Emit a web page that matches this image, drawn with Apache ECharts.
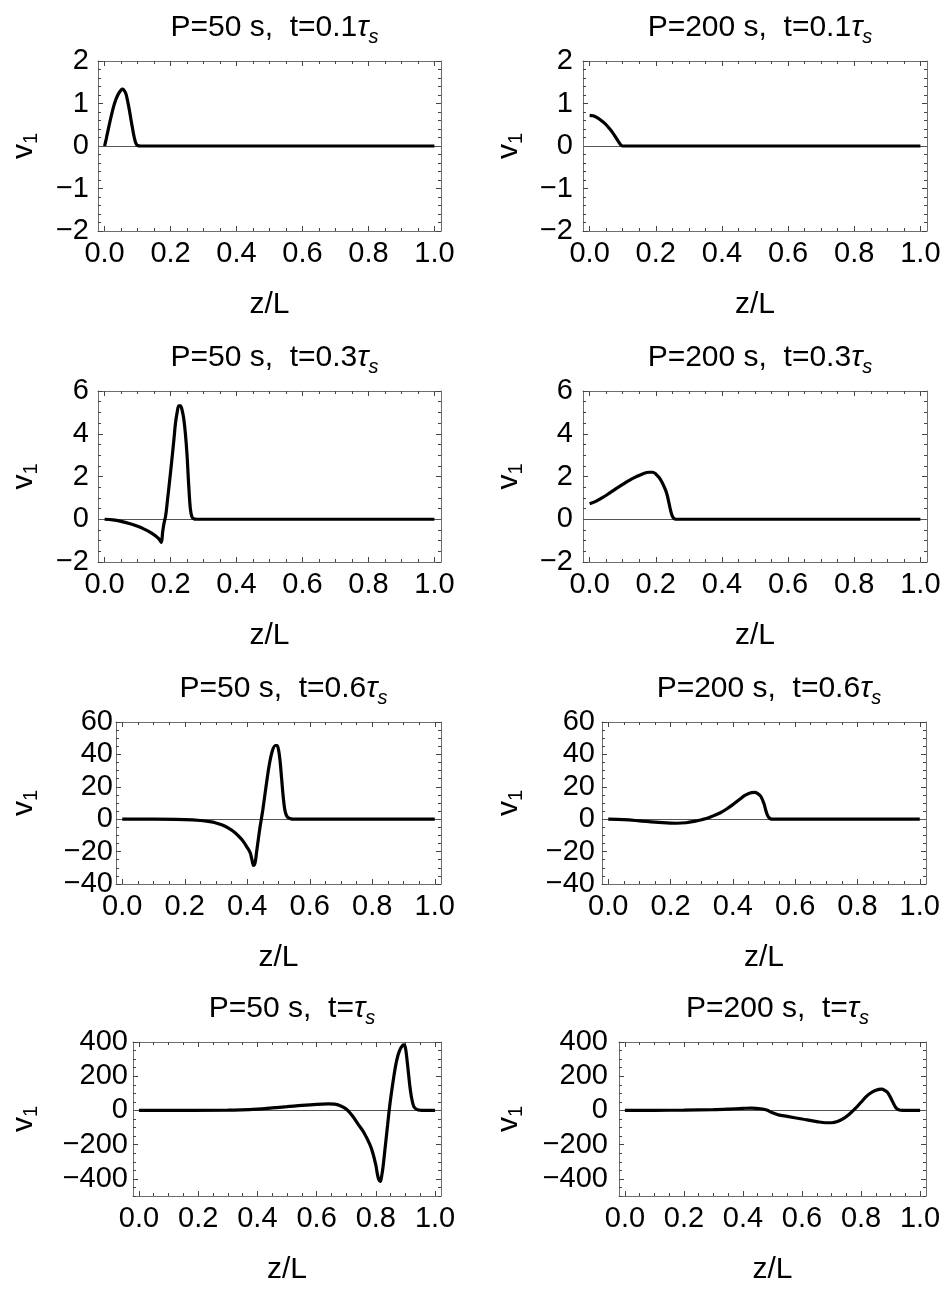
<!DOCTYPE html>
<html>
<head>
<meta charset="utf-8">
<script src="https://cdn.jsdelivr.net/npm/echarts@6/dist/echarts.min.js"></script>
<style>
  html, body { margin: 0; padding: 0; background: #fff; }
  #chart { width: 945px; height: 1289px; }
</style>
</head>
<body>
<div id="chart"></div>
<script>
// ---------------- data ----------------
const periods = ['50', '200'];
const times = ['0.1', '0.3', '0.6', ''];

const xTickLabels = [0, 0.2, 0.4, 0.6, 0.8, 1.0];
const xMinorTicks = [0, 0.05, 0.1, 0.15, 0.2, 0.25, 0.3, 0.35, 0.4, 0.45, 0.5, 0.55, 0.6, 0.65, 0.7, 0.75, 0.8, 0.85, 0.9, 0.95, 1.0];

const yRanges = [[-2, 2], [-2, 6], [-40, 60], [-500, 400]];
const yTickLabels = [
  [-2, -1, 0, 1, 2],
  [-2, 0, 2, 4, 6],
  [-40, -20, 0, 20, 40, 60],
  [-400, -200, 0, 200, 400]
];
const yMinorSteps = [0.2, 0.5, 5, 50];

// P=50 s, t=0.1 tau_s
const z_a = [0, 0.005, 0.01, 0.02, 0.03, 0.04, 0.05, 0.055, 0.06, 0.065, 0.07, 0.075, 0.08, 0.085, 0.09, 0.095, 0.1, 0.11, 1.0];
const v_a = [0, 0.17, 0.35, 0.7, 1.0, 1.2, 1.32, 1.34, 1.3, 1.22, 1.05, 0.85, 0.62, 0.4, 0.2, 0.06, 0.01, 0, 0];
// P=200 s, t=0.1 tau_s
const z_b = [0, 0.01, 0.02, 0.03, 0.04, 0.05, 0.06, 0.07, 0.08, 0.09, 0.095, 0.1, 0.11, 1.0];
const v_b = [0.72, 0.71, 0.68, 0.63, 0.57, 0.5, 0.41, 0.31, 0.19, 0.07, 0.02, 0, 0, 0];
// P=50 s, t=0.3 tau_s
const z_c = [0, 0.025, 0.05, 0.075, 0.1, 0.12, 0.14, 0.155, 0.165, 0.172, 0.176, 0.18, 0.185, 0.19, 0.2, 0.21, 0.215, 0.22, 0.225, 0.23, 0.235, 0.24, 0.245, 0.25, 0.255, 0.26, 0.265, 0.27, 0.28, 1.0];
const v_c = [0, -0.03, -0.1, -0.2, -0.33, -0.46, -0.62, -0.78, -0.92, -1.08, -0.6, -0.2, 0.15, 0.8, 2.2, 3.7, 4.5, 5.0, 5.3, 5.3, 5.1, 4.7, 4.0, 3.0, 1.6, 0.5, 0.1, 0.02, 0, 0];
// P=200 s, t=0.3 tau_s
const z_d = [0, 0.02, 0.04, 0.06, 0.08, 0.1, 0.12, 0.14, 0.16, 0.18, 0.19, 0.2, 0.21, 0.22, 0.23, 0.235, 0.24, 0.245, 0.25, 0.255, 0.26, 0.27, 1.0];
const v_d = [0.72, 0.85, 1.02, 1.22, 1.43, 1.63, 1.82, 1.98, 2.12, 2.2, 2.2, 2.12, 1.95, 1.7, 1.35, 1.1, 0.75, 0.4, 0.15, 0.04, 0, 0, 0];
// P=50 s, t=0.6 tau_s
const z_e = [0, 0.1, 0.2, 0.25, 0.28, 0.3, 0.32, 0.34, 0.36, 0.38, 0.39, 0.4, 0.405, 0.41, 0.415, 0.42, 0.425, 0.43, 0.435, 0.44, 0.445, 0.45, 0.46, 0.47, 0.48, 0.49, 0.495, 0.5, 0.505, 0.51, 0.515, 0.52, 0.525, 0.53, 0.54, 0.55, 1.0];
const v_e = [0, 0, -0.3, -0.8, -1.5, -2.3, -3.6, -5.5, -8.2, -12, -14.5, -17.5, -19, -21, -25, -28.5, -27, -20, -13, -6, 0, 6, 20, 33, 42, 45.5, 45.5, 43, 36, 25, 14, 6, 2.5, 1, 0.2, 0, 0];
// P=200 s, t=0.6 tau_s
const z_f = [0, 0.05, 0.1, 0.15, 0.2, 0.22, 0.25, 0.28, 0.3, 0.32, 0.34, 0.36, 0.38, 0.4, 0.42, 0.44, 0.46, 0.47, 0.48, 0.49, 0.5, 0.505, 0.51, 0.515, 0.52, 0.53, 1.0];
const v_f = [0, -0.3, -1, -1.8, -2.4, -2.5, -2.2, -1.2, -0.3, 0.8, 2.3, 4, 6.3, 9, 12, 14.8, 16.4, 16.5, 15.8, 14, 9.5, 6, 3, 1.2, 0.3, 0, 0];
// P=50 s, t=tau_s
const z_g = [0, 0.3, 0.4, 0.45, 0.5, 0.55, 0.6, 0.64, 0.66, 0.68, 0.7, 0.72, 0.74, 0.76, 0.78, 0.79, 0.8, 0.805, 0.81, 0.815, 0.82, 0.825, 0.83, 0.835, 0.84, 0.845, 0.85, 0.86, 0.87, 0.88, 0.89, 0.895, 0.9, 0.905, 0.91, 0.915, 0.92, 0.925, 0.93, 0.94, 0.95, 0.96, 1.0];
const v_g = [0, 2, 8, 15, 22, 30, 36, 38, 37, 28, 8, -30, -80, -130, -200, -250, -320, -370, -405, -415, -380, -320, -240, -160, -80, 0, 70, 190, 290, 350, 380, 383, 365, 300, 220, 140, 80, 40, 18, 5, 1, 0, 0];
// P=200 s, t=tau_s
const z_h = [0, 0.1, 0.2, 0.3, 0.35, 0.4, 0.43, 0.46, 0.48, 0.5, 0.52, 0.55, 0.6, 0.65, 0.68, 0.7, 0.72, 0.74, 0.76, 0.78, 0.8, 0.82, 0.84, 0.86, 0.87, 0.88, 0.89, 0.9, 0.91, 0.92, 0.93, 0.94, 1.0];
const v_h = [0, 0.5, 2, 5, 8, 12, 14, 10, 2, -14, -26, -35, -50, -65, -72, -72, -65, -48, -22, 10, 48, 85, 110, 123, 125, 118, 105, 75, 40, 12, 2, 0, 0];

const panelZ = [z_a, z_b, z_c, z_d, z_e, z_f, z_g, z_h];
const panelV = [v_a, v_b, v_c, v_d, v_e, v_f, v_g, v_h];

// ---------------- layout ----------------
const FONT = "'Liberation Sans', Arial, Helvetica, sans-serif";
const FRAME = '#6e6e6e';
const TICK = '#444444';
const X_MIN = -0.02, X_MAX = 1.02;
const grids = [
  { left: 98,  top: 61,   width: 343, height: 170 },
  { left: 583, top: 61,   width: 344, height: 170 },
  { left: 98,  top: 391,  width: 343, height: 171 },
  { left: 583, top: 391,  width: 344, height: 171 },
  { left: 116, top: 722,  width: 325, height: 162 },
  { left: 602, top: 722,  width: 324, height: 162 },
  { left: 133, top: 1042, width: 308, height: 154 },
  { left: 619, top: 1042, width: 307, height: 154 }
];
const yLabelMargin = [9, 10, 9, 10, 3, 7, 5, 11];
const NAME_X = [24, 509];

function minus(s) { return String(s).replace('-', '\u2212'); }
function range(a, b, step) {
  const out = [];
  const n = Math.round((b - a) / step);
  for (let i = 0; i <= n; i++) out.push(+(a + i * step).toFixed(6));
  return out;
}

const option = {
  animation: false,
  backgroundColor: '#ffffff',
  textStyle: { fontFamily: FONT },
  title: [],
  grid: [],
  xAxis: [],
  yAxis: [],
  series: []
};

grids.forEach((g, i) => {
  const row = Math.floor(i / 2), col = i % 2;
  const [yMin, yMax] = yRanges[row];
  const yMinor = range(yMin, yMax, yMinorSteps[row]);
  const yMajor = yTickLabels[row];

  option.grid.push({ left: g.left, top: g.top, width: g.width, height: g.height, containLabel: false });

  // title
  option.title.push({
    text: '{a|P=' + periods[col] + ' s,  t=' + times[row] + '}{b|τ}{c|s}',
    left: g.left + g.width / 2,
    top: g.top - 57,
    textAlign: 'center',
    textStyle: {
      fontWeight: 'normal',
      rich: {
        a: { fontFamily: FONT, fontSize: 30, fontWeight: 'normal', color: '#000', lineHeight: 38, verticalAlign: 'middle' },
        b: { fontFamily: FONT, fontSize: 30, fontWeight: 'normal', color: '#000', fontStyle: 'italic', lineHeight: 38, verticalAlign: 'middle' },
        c: { fontFamily: FONT, fontSize: 20, fontWeight: 'normal', color: '#000', fontStyle: 'italic', lineHeight: 20, verticalAlign: 'bottom' }
      }
    }
  });

  const xBase = i * 4;
  const yBase = i * 4;
  const lineOn = { show: true, onZero: false, lineStyle: { color: FRAME, width: 1 } };
  const lineOff = { show: false, onZero: false };
  // x axes: bottom major (labels), bottom minor, top major, top minor
  option.xAxis.push({
    gridIndex: i, type: 'value', min: X_MIN, max: X_MAX, position: 'bottom',
    axisLine: lineOn,
    axisTick: { show: true, inside: true, length: 5, customValues: xTickLabels, lineStyle: { color: TICK, width: 1 } },
    axisLabel: { show: true, customValues: xTickLabels, formatter: v => v.toFixed(1), fontSize: 29, color: '#000', fontFamily: FONT, margin: 8 },
    splitLine: { show: false },
    name: 'z/L', nameLocation: 'middle', nameGap: 59,
    nameTextStyle: { fontSize: 30, color: '#000', fontFamily: FONT }
  });
  option.xAxis.push({
    gridIndex: i, type: 'value', min: X_MIN, max: X_MAX, position: 'bottom',
    axisLine: lineOff,
    axisTick: { show: true, inside: true, length: 3, customValues: xMinorTicks, lineStyle: { color: TICK, width: 1 } },
    axisLabel: { show: false }, splitLine: { show: false }
  });
  option.xAxis.push({
    gridIndex: i, type: 'value', min: X_MIN, max: X_MAX, position: 'top',
    axisLine: lineOn,
    axisTick: { show: true, inside: true, length: 5, customValues: xTickLabels, lineStyle: { color: TICK, width: 1 } },
    axisLabel: { show: false }, splitLine: { show: false }
  });
  option.xAxis.push({
    gridIndex: i, type: 'value', min: X_MIN, max: X_MAX, position: 'top',
    axisLine: lineOff,
    axisTick: { show: true, inside: true, length: 3, customValues: xMinorTicks, lineStyle: { color: TICK, width: 1 } },
    axisLabel: { show: false }, splitLine: { show: false }
  });

  // y axes
  option.yAxis.push({
    gridIndex: i, type: 'value', min: yMin, max: yMax, position: 'left',
    axisLine: lineOn,
    axisTick: { show: true, inside: true, length: 5, customValues: yMajor, lineStyle: { color: TICK, width: 1 } },
    axisLabel: { show: true, customValues: yMajor, formatter: v => minus(v), fontSize: 29, color: '#000', fontFamily: FONT, margin: yLabelMargin[i] },
    splitLine: { show: false },
    name: '{v|v}{s|1}', nameLocation: 'middle', nameRotate: 90,
    nameGap: g.left - NAME_X[col] - 17,
    nameTextStyle: {
      rich: {
        v: { fontFamily: FONT, fontSize: 30, color: '#000', lineHeight: 34, verticalAlign: 'middle' },
        s: { fontFamily: FONT, fontSize: 20, color: '#000', lineHeight: 20, verticalAlign: 'bottom' }
      }
    }
  });
  option.yAxis.push({
    gridIndex: i, type: 'value', min: yMin, max: yMax, position: 'left',
    axisLine: lineOff,
    axisTick: { show: true, inside: true, length: 3, customValues: yMinor, lineStyle: { color: TICK, width: 1 } },
    axisLabel: { show: false }, splitLine: { show: false }
  });
  option.yAxis.push({
    gridIndex: i, type: 'value', min: yMin, max: yMax, position: 'right',
    axisLine: lineOn,
    axisTick: { show: true, inside: true, length: 5, customValues: yMajor, lineStyle: { color: TICK, width: 1 } },
    axisLabel: { show: false }, splitLine: { show: false }
  });
  option.yAxis.push({
    gridIndex: i, type: 'value', min: yMin, max: yMax, position: 'right',
    axisLine: lineOff,
    axisTick: { show: true, inside: true, length: 3, customValues: yMinor, lineStyle: { color: TICK, width: 1 } },
    axisLabel: { show: false }, splitLine: { show: false }
  });

  const zs = panelZ[i], vs = panelV[i];
  option.series.push({
    type: 'line',
    xAxisIndex: xBase,
    yAxisIndex: yBase,
    data: zs.map((z, k) => [z, vs[k]]),
    showSymbol: false,
    smooth: 0.35,
    z: 3,
    lineStyle: { color: '#000', width: 3.2 },
    markLine: {
      silent: true, symbol: 'none', z: 1,
      label: { show: false },
      lineStyle: { color: '#555', width: 1, type: 'solid' },
      data: [{ yAxis: 0 }]
    }
  });
});

const chart = echarts.init(document.getElementById('chart'), null, { renderer: 'canvas' });
chart.setOption(option);
</script>
</body>
</html>
